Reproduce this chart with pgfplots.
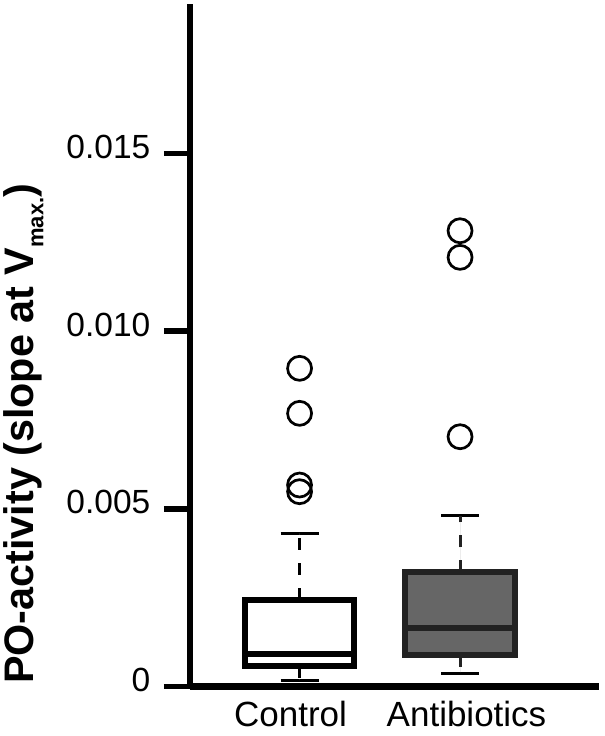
\documentclass[border=0pt]{standalone}
\usepackage{pgfplots}
\pgfplotsset{compat=1.18}
\usepgfplotslibrary{statistics}
\usepackage{fontspec}
\setmainfont{Liberation Sans}
\definecolor{boxgray}{RGB}{102,102,102}
\definecolor{boxdark}{RGB}{34,34,34}
% values are in units of 0.001 (PO-activity x 1000)
\begin{document}
\begin{tikzpicture}
\begin{axis}[
  scale only axis, width=408.7pt, height=682.7pt,
  xmin=0.3165, xmax=2.863, ymin=0, ymax=19.2,
  axis x line=bottom, axis y line=left,
  axis line style={-, line width=6.5pt, black},
  ytick={0,5,10,15},
  yticklabels={0,0.005,0.010,0.015},
  xtick={0.944,2.04},
  xticklabels={Control,Antibiotics},
  tick align=outside,
  major tick length=26pt,
  ytick style={line width=5.5pt, black},
  xtick style={draw=none},
  yticklabel style={font=\fontsize{33.5}{40}\selectfont, anchor=base east, xshift=-10pt, yshift=-5pt},
  xticklabel style={font=\fontsize{35}{42}\selectfont, anchor=base, yshift=-14pt},
  ylabel={\bfseries PO-activity (slope at V\raisebox{-10pt}{\fontsize{22}{22}\selectfont\bfseries max.})},
  ylabel style={font=\fontsize{41.3}{46}\selectfont, at={(axis description cs:-0.3832,0.3705)}, anchor=base},
  boxplot/draw direction=y,
  boxplot/box extend=0.68,
]
% whisker caps (solid)
\addplot[draw=black, mark=none,
  boxplot/whisker extend=0.237,
  boxplot/every box/.style={draw=none, fill=none},
  boxplot/every median/.style={draw=none},
  boxplot/every whisker/.style={draw=black, solid, line width=3pt},
  boxplot prepared={draw position=1, lower whisker=0.188, lower quartile=0.188,
    median=2, upper quartile=4.314, upper whisker=4.314}]
  coordinates {};
\addplot[draw=black, mark=none,
  boxplot/whisker extend=0.237,
  boxplot/every box/.style={draw=none, fill=none},
  boxplot/every median/.style={draw=none},
  boxplot/every whisker/.style={draw=black, solid, line width=3pt},
  boxplot prepared={draw position=2, lower whisker=0.385, lower quartile=0.385,
    median=2, upper quartile=4.809, upper whisker=4.809}]
  coordinates {};
% boxes with dashed whiskers
\addplot[draw=black, fill=white, mark=o, mark size=12pt, mark options={solid, line width=2.7pt, draw=black, fill=none},
  boxplot/whisker extend=0,
  boxplot/every box/.style={line width=6pt},
  boxplot/every median/.style={line width=6pt},
  boxplot/every whisker/.style={line width=3pt, dash pattern=on 12pt off 13pt},
  boxplot prepared={draw position=1, lower whisker=0.188, lower quartile=0.582,
    median=0.906, upper quartile=2.447, upper whisker=4.314}]
  table[row sep=\\, y index=0]{v\\ 8.954\\ 7.688\\ 5.672\\ 5.484\\};
\addplot[draw=boxdark, fill=boxgray, mark=o, mark size=12pt, mark options={solid, line width=2.7pt, draw=black, fill=none},
  boxplot/whisker extend=0,
  boxplot/every box/.style={line width=6pt},
  boxplot/every median/.style={line width=6pt},
  boxplot/every whisker/.style={line width=3pt, dash pattern=on 12pt off 13pt},
  boxplot prepared={draw position=2, lower whisker=0.385, lower quartile=0.883,
    median=1.651, upper quartile=3.217, upper whisker=4.809}]
  table[row sep=\\, y index=0]{v\\ 12.823\\ 12.075\\ 7.030\\};
\end{axis}
\path (current axis.south west) ++(-188.3pt,-49.3pt);
\path (current axis.north east) ++(6pt,4pt);
\end{tikzpicture}
\end{document}
